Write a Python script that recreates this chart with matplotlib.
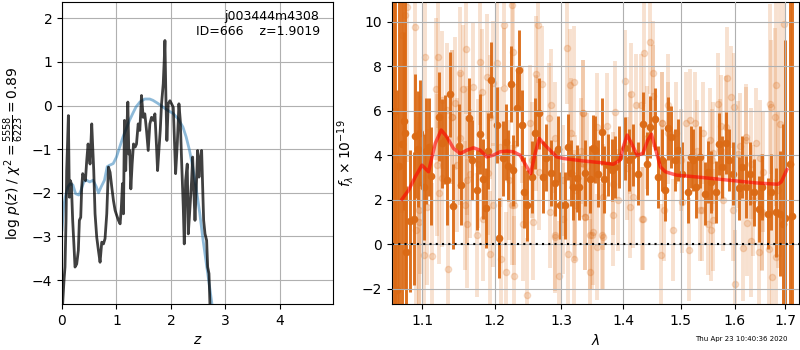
import matplotlib
matplotlib.use("Agg")
import matplotlib.pyplot as plt
from matplotlib.ticker import FormatStrFormatter, NullLocator
import numpy as np

# ---------------- left panel: p(z) ----------------
z_grid = [0.012, 0.037, 0.055, 0.074, 0.086, 0.098, 0.117, 0.135, 0.153, 0.172,
          0.196, 0.221, 0.239, 0.27, 0.30, 0.319, 0.344, 0.362, 0.380, 0.405,
          0.43, 0.454, 0.479, 0.497, 0.515, 0.546, 0.564, 0.583, 0.607, 0.638,
          0.669, 0.699, 0.73, 0.761, 0.79, 0.822, 0.853, 0.883, 0.914, 0.945,
          0.975, 1.006, 1.037, 1.067, 1.09, 1.11, 1.129, 1.147, 1.17, 1.19,
          1.209, 1.227, 1.245, 1.264, 1.288, 1.313, 1.344, 1.368, 1.399, 1.429,
          1.46, 1.491, 1.521, 1.552, 1.583, 1.613, 1.644, 1.675, 1.706, 1.736,
          1.755, 1.779, 1.804, 1.828, 1.859, 1.877, 1.89, 1.908, 1.926, 1.951,
          1.982, 2.012, 2.043, 2.061, 2.086, 2.117, 2.147, 2.172, 2.196, 2.227,
          2.245, 2.27, 2.30, 2.319, 2.35, 2.38, 2.399, 2.423, 2.442, 2.466,
          2.491, 2.515, 2.534, 2.564, 2.583, 2.601, 2.626, 2.656, 2.675, 2.699,
          2.718]
log_pz = [-4.54, -4.0, -3.70, -2.63, -1.49, -1.03, -0.23, -2.10, -1.72, -1.79,
          -2.63, -3.24, -3.70, -3.63, -3.32, -2.63, -2.56, -1.87, -1.56, -1.64,
          -1.72, -1.26, -0.88, -1.11, -1.34, -0.42, -0.95, -1.49, -2.48, -3.02,
          -3.32, -3.59, -3.13, -3.17, -3.05, -2.48, -1.41, -1.53, -1.87, -2.18,
          -2.40, -2.52, -2.63, -2.71, -2.33, -1.79, -2.48, -0.34, -1.49, -0.57,
          0.08, -1.11, -1.03, -1.91, -1.34, -0.88, -0.95, -0.88, -0.42, -0.57,
          0.23, -0.27, -0.19, -0.57, -1.03, -0.42, -0.27, -0.34, -0.19, -0.95,
          -1.49, -1.03, -0.57, 0.04, 0.50, 1.03, 1.49, 0.19, -0.80, 0.04,
          0.11, 0.04, -0.04, -0.65, -1.56, -0.88, 0.04, -0.34, -1.26, -2.33,
          -3.17, -1.72, -1.34, -2.94, -2.33, -1.72, -1.18, -2.02, -2.63, -1.87,
          -1.03, -1.64, -1.26, -1.03, -1.87, -2.63, -2.94, -3.09, -3.70, -3.85,
          -4.62]

z_prior = [0.0, 0.03, 0.06, 0.11, 0.15, 0.2, 0.25, 0.31, 0.35, 0.40, 0.45, 0.51,
           0.57, 0.63, 0.67, 0.72, 0.78, 0.83, 0.87, 0.94, 1.0, 1.06, 1.12, 1.18,
           1.24, 1.30, 1.36, 1.43, 1.52, 1.61, 1.67, 1.76, 1.85, 1.94, 2.04, 2.13,
           2.22, 2.28, 2.34, 2.40, 2.46, 2.53, 2.59, 2.65, 2.71, 2.77, 2.83]
log_prior = [-2.85, -2.32, -2.09, -1.86, -1.79, -1.82, -2.02, -2.05, -1.94, -1.75,
             -1.71, -1.75, -1.71, -1.86, -2.0, -1.86, -1.71, -1.40, -1.37, -1.33,
             -1.18, -0.95, -0.72, -0.53, -0.34, -0.18, -0.03, 0.08, 0.15, 0.15,
             0.12, 0.05, -0.03, -0.11, -0.18, -0.30, -0.49, -0.72, -1.02, -1.40,
             -1.86, -2.47, -3.08, -3.62, -4.15, -4.70, -5.3]

# ---------------- right panel: spectrum ----------------
wave_dark = [1.0631, 1.0648, 1.0672, 1.0700, 1.0736, 1.0756, 1.0778, 1.0791, 1.0834, 1.0895,
             1.0899, 1.0943, 1.0974, 1.1017, 1.1049, 1.1083, 1.1115, 1.1230, 1.1263, 1.1298,
             1.1338, 1.1375, 1.1420, 1.1489, 1.1526, 1.1641, 1.1683, 1.1753, 1.1791, 1.1838,
             1.1876, 1.1909, 1.1943, 1.2038, 1.2067, 1.2116, 1.2160, 1.2198, 1.2233, 1.2271,
             1.2321, 1.2359, 1.2395, 1.2434, 1.2479, 1.2544, 1.2594, 1.2655, 1.2720, 1.2761,
             1.2838, 1.2899, 1.2941, 1.2977, 1.3055, 1.3107, 1.3149, 1.3185, 1.3239, 1.3280,
             1.3371, 1.3452, 1.3505, 1.3532, 1.3586, 1.3641, 1.3679, 1.3750, 1.3806, 1.3860,
             1.3932, 1.4027, 1.4100, 1.4167, 1.4253, 1.4338, 1.4407, 1.4454, 1.4540, 1.4598,
             1.4658, 1.4716, 1.4774, 1.4834, 1.4893, 1.4952, 1.5031, 1.5132, 1.5194, 1.5223,
             1.5285, 1.5346, 1.5438, 1.5499, 1.5562, 1.5643, 1.5704, 1.5768, 1.5831, 1.5893,
             1.5970, 1.6085, 1.6151, 1.6228, 1.6292, 1.6371, 1.6475, 1.6542, 1.6653, 1.6721,
             1.6808, 1.6888, 1.6950, 1.7000, 1.7092, 1.7147]
flux_dark = [4.0, 6.0, -2.07, 3.5, 4.5, 5.54, 5.0, -0.36, 1.04, 1.16,
             4.86, 4.28, 5.00, 2.58, 4.20, 4.38, 3.08, 5.73, 4.54, 4.71,
             2.88, 6.74, 1.71, 4.43, 2.66, 5.66, 3.78, 2.43, 4.94, 2.93,
             1.65, 4.20, 7.39, 5.36, 0.30, 3.86, 4.61, 3.53, 7.21, 3.33,
             6.11, 7.84, 5.36, 2.33, 1.76, 3.03, 4.99, 5.89, 3.03, 3.90,
             3.21, 2.76, 4.29, 1.76, 1.76, 4.38, 3.21, 2.58, 2.96, 2.58,
             3.21, 2.93, 4.31, 4.26, 3.18, 5.06, 2.93, 3.56, 3.33, 3.48,
             3.93, 4.31, 3.78, 4.01, 3.18, 5.43, 3.63, 5.27, 5.64, 3.03,
             3.78, 2.43, 5.21, 4.83, 3.78, 4.23, 3.18, 2.36, 3.93, 3.78,
             2.58, 3.93, 2.28, 3.26, 2.81, 2.36, 4.51, 3.48, 4.54, 3.78,
             3.18, 2.51, 3.48, 2.58, 3.18, 2.33, 1.59, 2.58, 1.38, 2.36,
             1.44, 1.38, 0.90, 1.20, 3.60, 1.28]
err_dark = [14.0, 13.0, 9.0, 10.0, 8.0, 4.0, 7.0, 3.0, 3.2, 3.0,
            2.8, 2.6, 2.4, 2.4, 2.4, 2.2, 2.2, 2.0, 2.0, 2.0,
            2.0, 1.9, 1.9, 1.9, 1.8, 1.8, 1.8, 1.8, 1.8, 1.8,
            1.8, 1.7, 1.7, 1.7, 1.8, 1.7, 1.7, 1.6, 1.7, 1.6,
            1.7, 1.8, 1.6, 1.6, 1.6, 1.6, 1.6, 1.6, 1.6, 1.5,
            1.5, 1.5, 1.5, 1.5, 1.5, 1.5, 1.5, 1.5, 1.5, 1.5,
            1.5, 1.5, 1.5, 1.5, 1.5, 1.5, 1.5, 1.4, 1.4, 1.4,
            1.4, 1.4, 1.4, 1.4, 1.4, 1.4, 1.4, 1.4, 1.4, 1.4,
            1.4, 1.4, 1.4, 1.4, 1.4, 1.4, 1.4, 1.4, 1.4, 1.4,
            1.4, 1.4, 1.4, 1.4, 1.4, 1.4, 1.4, 1.4, 1.4, 1.4,
            1.4, 1.4, 1.4, 1.4, 1.4, 1.5, 1.5, 1.5, 1.6, 1.7,
            2.0, 2.8, 4.5, 8.0, 10.0, 12.0]

wave_light = [1.0736, 1.0778, 1.0800, 1.0908, 1.0922, 1.0952, 1.0965, 1.1017, 1.1040, 1.1128,
              1.1185, 1.1216, 1.1220, 1.1263, 1.1268, 1.1330, 1.1351, 1.1397, 1.1442, 1.1467,
              1.1512, 1.1516, 1.1548, 1.1580, 1.1593, 1.1600, 1.1605, 1.1655, 1.1697, 1.1753,
              1.1791, 1.1814, 1.1838, 1.1894, 1.1900, 1.1932, 1.1936, 1.1972, 1.1981, 1.2029,
              1.2077, 1.2091, 1.2134, 1.2138, 1.2165, 1.2247, 1.2257, 1.2271, 1.2275, 1.2300,
              1.2411, 1.2479, 1.2514, 1.2550, 1.2568, 1.2604, 1.2645, 1.2650, 1.2694, 1.2800,
              1.2822, 1.2834, 1.2899, 1.2900, 1.2965, 1.3028, 1.3092, 1.3107, 1.3133, 1.3196,
              1.3200, 1.3208, 1.3300, 1.3344, 1.3371, 1.3400, 1.3452, 1.3455, 1.3479, 1.3560,
              1.3570, 1.3658, 1.3668, 1.3724, 1.3832, 1.3860, 1.3915, 1.4027, 1.4056, 1.4112,
              1.4138, 1.4167, 1.4210, 1.4306, 1.4310, 1.4354, 1.4400, 1.4454, 1.4512, 1.4515,
              1.4640, 1.4658, 1.4698, 1.4774, 1.4854, 1.4923, 1.5015, 1.5102, 1.5150, 1.5262,
              1.5300, 1.5379, 1.5407, 1.5543, 1.5562, 1.5566, 1.5592, 1.5600, 1.5686, 1.5747,
              1.5779, 1.5855, 1.5931, 1.5970, 1.6002, 1.6066, 1.6100, 1.6164, 1.6228, 1.6232,
              1.6318, 1.6322, 1.6424, 1.6475, 1.6500, 1.6526, 1.6554, 1.6673, 1.6704, 1.6739,
              1.6790, 1.6808, 1.6812, 1.6888, 1.6980,
              1.0955, 1.1062, 1.1194, 1.1400, 1.1610, 1.1766, 1.2200, 1.2275, 1.2398, 1.2614,
              1.2902, 1.3030, 1.3142, 1.3210, 1.3340, 1.3347, 1.3375, 1.3496, 1.3640, 1.3835,
              1.4115, 1.4340, 1.4660, 1.4780, 1.5000, 1.5165, 1.5350, 1.5499, 1.5720, 1.5829,
              1.5996, 1.6230, 1.6358, 1.6528, 1.6721, 1.6854]
flux_light = [9.41, 10.30, 10.69, 9.76, 0.63, 1.53, 2.66, -0.50, 8.44, -0.54,
              6.97, 8.41, 2.31, 6.49, 2.96, 6.04, -1.10, 5.73, 6.34, 3.56,
              7.69, 4.76, 6.97, 1.76, 8.77, 4.20, 0.93, 3.18, 7.06, 0.41,
              8.18, 6.86, 1.16, 7.54, 3.20, 5.73, -0.42, 1.76, 7.24, 8.14,
              4.38, -0.64, 7.01, 9.86, -1.25, 10.77, 1.76, 8.66, -1.44, 4.50,
              0.93, -2.30, 5.46, 3.80, 1.00, 7.66, 9.86, 3.26, 7.21, 5.66,
              1.45, 6.26, 0.33, 4.80, -1.44, 1.16, 8.81, -0.45, 7.16, 7.31,
              -0.64, 1.76, 4.20, 5.89, 1.23, 3.50, 0.41, -1.25, 0.41, 5.28,
              -0.12, 0.33, 2.13, 5.32, 1.31, 5.96, 1.98, 7.34, 3.41, 4.54,
              6.76, 2.13, 6.26, 6.26, 1.16, 8.59, 4.80, 9.08, 7.72, 6.67,
              -0.50, 5.46, 1.56, 6.26, 0.63, 4.99, 1.91, 5.44, -0.24, 5.44,
              4.20, 1.53, 5.01, 4.71, 0.63, 3.80, 1.08, 4.10, 6.31, 5.32,
              1.98, 7.46, 6.61, 1.53, -1.77, 4.05, 4.40, -0.15, 4.68, 0.96,
              3.63, 0.15, 4.54, -0.35, 3.90, 1.45, 3.26, -0.19, 6.31, -1.47,
              5.73, 7.16, -0.57, 5.41, 9.90,
              1.00, 1.68, 3.56, 5.73, 2.88, 3.63, 2.88, 1.76, 5.36, 4.99,
              0.41, 2.88, 4.99, 2.43, 3.63, 5.89, 1.23, 0.55, 0.41, 2.73,
              1.68, 1.16, 5.44, 4.99, 3.78, 5.59, 1.53, 0.93, 4.23, 5.28,
              6.18, 4.83, 1.98, 1.38, 6.18, 2.43]
err_light = [8.0, 7.5, 7.0, 5.0, 4.5, 4.2, 4.0, 3.6, 3.4, 3.3,
             3.2, 3.2, 3.2, 3.1, 3.1, 3.0, 3.0, 3.0, 3.0, 3.0,
             3.0, 3.0, 2.9, 2.9, 2.9, 2.9, 2.9, 2.9, 2.9, 2.8,
             2.8, 2.8, 2.8, 2.8, 2.8, 2.8, 2.8, 2.8, 2.8, 2.8,
             2.7, 2.7, 2.7, 2.7, 2.7, 2.7, 2.7, 2.7, 2.7, 2.7,
             2.6, 2.6, 2.6, 2.6, 2.6, 2.6, 2.6, 2.6, 2.6, 2.5,
             2.5, 2.5, 2.5, 2.5, 2.5, 2.5, 2.5, 2.5, 2.5, 2.5,
             2.5, 2.5, 2.4, 2.4, 2.4, 2.4, 2.4, 2.4, 2.4, 2.4,
             2.4, 2.4, 2.4, 2.4, 2.3, 2.3, 2.3, 2.3, 2.3, 2.3,
             2.3, 2.3, 2.3, 2.3, 2.3, 2.3, 2.3, 2.3, 2.3, 2.3,
             2.3, 2.3, 2.3, 2.3, 2.3, 2.3, 2.3, 2.3, 2.3, 2.3,
             2.3, 2.3, 2.3, 2.3, 2.3, 2.3, 2.3, 2.3, 2.3, 2.3,
             2.3, 2.3, 2.3, 2.3, 2.4, 2.4, 2.4, 2.4, 2.4, 2.4,
             2.5, 2.5, 2.5, 2.6, 2.6, 2.6, 2.7, 3.0, 4.5, 3.2,
             4.0, 5.0, 3.5, 6.0, 6.0,
             4.5, 3.5, 3.2, 3.0, 2.9, 2.9, 2.7, 2.7, 2.6, 2.6,
             2.5, 2.5, 2.5, 2.5, 2.4, 2.4, 2.4, 2.4, 2.4, 2.3,
             2.3, 2.3, 2.3, 2.3, 2.3, 2.3, 2.3, 2.3, 2.3, 2.3,
             2.4, 2.4, 2.5, 2.6, 3.0, 3.5]

wave_model = [1.0736, 1.0821, 1.0908, 1.0996, 1.1083, 1.1173, 1.1253, 1.1330, 1.1420, 1.1512,
              1.1605, 1.1697, 1.1791, 1.1886, 1.1981, 1.2077, 1.2174, 1.2271, 1.2370, 1.2470,
              1.2529, 1.2594, 1.2659, 1.2720, 1.2822, 1.2926, 1.3028, 1.3344, 1.3668, 1.3832,
              1.3944, 1.3999, 1.4066, 1.4139, 1.4235, 1.4331, 1.4417, 1.4481, 1.4550, 1.4638,
              1.4726, 1.4923, 1.5285, 1.5907, 1.6424, 1.6854, 1.6923, 1.7037]
flux_model = [2.03, 2.43, 3.03, 3.56, 3.26, 4.54, 5.14, 4.83, 4.31, 4.08,
              4.23, 4.34, 4.23, 3.93, 4.01, 4.16, 4.19, 4.16, 4.01, 3.48,
              3.18, 4.08, 4.76, 4.54, 4.23, 3.93, 3.86, 3.75, 3.66, 3.60,
              3.78, 4.38, 4.91, 4.54, 4.01, 4.08, 4.68, 4.95, 4.31, 3.48,
              3.26, 3.11, 3.03, 2.88, 2.76, 2.70, 2.81, 3.36]

ORANGE = '#db6a15'

fig = plt.figure(figsize=(8, 3.5), dpi=100)
ax1 = fig.add_axes([0.0775, 0.131, 0.339, 0.863])
ax2 = fig.add_axes([0.490, 0.131, 0.509, 0.863])

# left panel
ax1.plot(z_prior, log_prior, color='#1f77b4', alpha=0.5, lw=2)
ax1.plot(z_grid, log_pz, color='k', alpha=0.75, lw=2)
ax1.set_xlim(0, 4.98)
ax1.set_ylim(-4.55, 2.37)
ax1.set_xticks([0, 1, 2, 3, 4])
ax1.set_yticks([-4, -3, -2, -1, 0, 1, 2])
ax1.grid(True)
ax1.set_xlabel(r'$z$', fontsize=10)
ax1.set_ylabel(r'log $p(z)$ / $\chi^2=\frac{5558}{6223}=0.89$', fontsize=10)
ax1.text(0.95, 0.975, 'j003444m4308\nID=666    z=1.9019', transform=ax1.transAxes,
         ha='right', va='top', fontsize=9, linespacing=1.25)

# right panel
ax2.errorbar(wave_light, flux_light, yerr=err_light, color=ORANGE, alpha=0.2,
             marker='o', ms=4.5, linestyle='none', elinewidth=2.8, capsize=0, zorder=1)
ax2.errorbar(wave_dark, flux_dark, yerr=err_dark, color=ORANGE, alpha=0.95,
             marker='o', ms=4.5, linestyle='none', elinewidth=2.1, capsize=0, zorder=2)
ax2.plot(wave_model, flux_model, color='r', alpha=0.6, lw=2.5, zorder=4)
ax2.axhline(0, color='k', linestyle=(0, (1, 2)), lw=1.5, zorder=5)
ax2.set_xscale('log')
ax2.set_xlim(1.0608, 1.729)
ax2.set_ylim(-2.69, 10.89)
ax2.set_xticks([1.1, 1.2, 1.3, 1.4, 1.5, 1.6, 1.7])
ax2.xaxis.set_major_formatter(FormatStrFormatter('%.1f'))
ax2.xaxis.set_minor_locator(NullLocator())
ax2.set_yticks([-2, 0, 2, 4, 6, 8, 10])
ax2.grid(True)
ax2.set_axisbelow(False)
for gl in ax2.get_xgridlines() + ax2.get_ygridlines():
    gl.set_zorder(3)
ax2.set_xlabel(r'$\lambda$', fontsize=10)
ax2.set_ylabel(r'$f_\lambda \times 10^{-19}$', fontsize=10)

for ax in (ax1, ax2):
    ax.tick_params(labelsize=10)

fig.text(0.985, 0.03, 'Thu Apr 23 10:40:36 2020', ha='right', va='center', fontsize=5)

fig.savefig('out.png', dpi=100)
